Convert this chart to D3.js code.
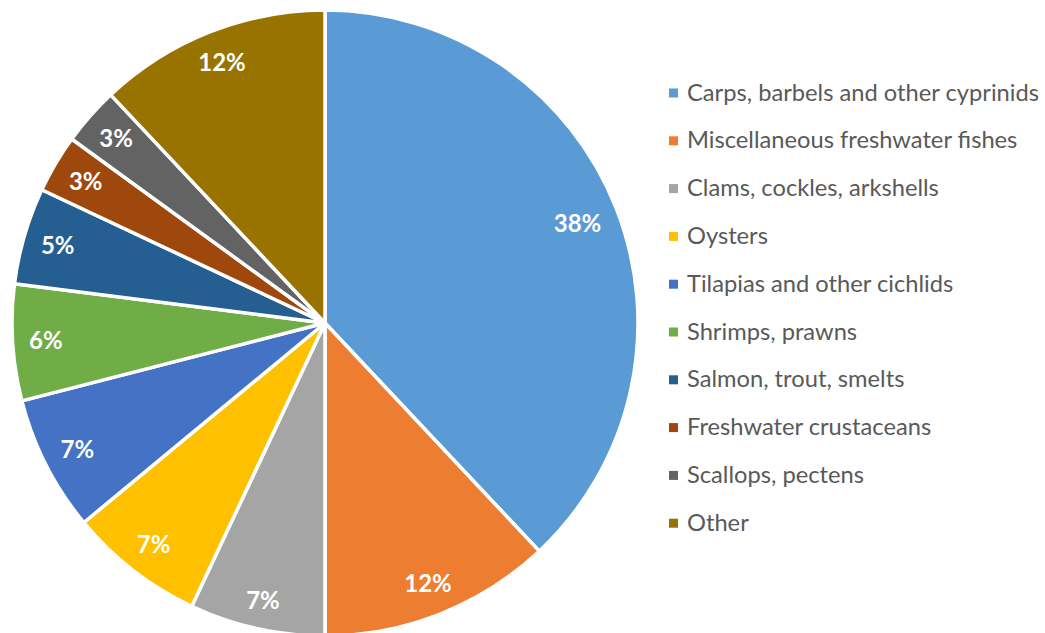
<!DOCTYPE html>
<html>
<head>
<meta charset="utf-8">
<script src="https://cdn.jsdelivr.net/npm/d3@7"></script>
<style>
  html, body { margin: 0; padding: 0; background: #fff; }
  svg { display: block; }
</style>
</head>
<body>
<svg id="chart" width="1045" height="633"></svg>
<script>
// Aquaculture production by species group, share of total (%)
const categories = [
  "Carps, barbels and other cyprinids",
  "Miscellaneous freshwater fishes",
  "Clams, cockles, arkshells",
  "Oysters",
  "Tilapias and other cichlids",
  "Shrimps, prawns",
  "Salmon, trout, smelts",
  "Freshwater crustaceans",
  "Scallops, pectens",
  "Other"
];
const shares = [38, 12, 7, 7, 7, 6, 5, 3, 3, 12];
const palette = ["#5B9BD5", "#ED7D31", "#A5A5A5", "#FFC000", "#4472C4",
                 "#70AD47", "#255E91", "#9E480E", "#636363", "#997300"];

const data = categories.map((c, i) => ({ name: c, value: shares[i] }));

const svg = d3.select("#chart");
const cx = 325, cy = 323, radius = 313;
const labelMargin = 16;

const color = d3.scaleOrdinal().domain(categories).range(palette);

const pie = d3.pie().value(d => d.value).sort(null);
const arc = d3.arc().innerRadius(0).outerRadius(radius);

const g = svg.append("g").attr("transform", `translate(${cx},${cy})`);
const arcs = pie(data);

g.selectAll("path.slice")
  .data(arcs)
  .join("path")
  .attr("class", "slice")
  .attr("d", arc)
  .attr("fill", d => color(d.data.name))
  .attr("stroke", "#fff")
  .attr("stroke-width", 3.5)
  .attr("stroke-linejoin", "round");

// Percentage labels, pushed out towards the rim so each box stays inside its slice
const labels = g.selectAll("text.pct")
  .data(arcs)
  .join("text")
  .attr("class", "pct")
  .attr("text-anchor", "middle")
  .attr("dy", "0.36em")
  .attr("fill", "#fff")
  .style("font-family", "Lato, 'Open Sans', sans-serif")
  .style("font-weight", "bold")
  .style("font-size", "24px")
  .text(d => d.data.value + "%");

labels.attr("transform", function(d) {
  const w = this.getComputedTextLength();
  const h = 18;
  const a = (d.startAngle + d.endAngle) / 2;
  const r = radius - labelMargin - (w / 2) * Math.abs(Math.sin(a)) - (h / 2) * Math.abs(Math.cos(a));
  return `translate(${r * Math.sin(a)},${-r * Math.cos(a)})`;
});

// Legend
const legendX = 669, legendY0 = 93, legendStep = 47.8;
const legend = svg.append("g")
  .selectAll("g")
  .data(categories)
  .join("g")
  .attr("transform", (d, i) => `translate(${legendX},${legendY0 + i * legendStep})`);

legend.append("rect")
  .attr("x", 0).attr("y", -4.5)
  .attr("width", 9).attr("height", 9)
  .attr("fill", d => color(d));

legend.append("text")
  .attr("x", 18)
  .attr("y", 7.5)
  .attr("fill", "#595959")
  .style("font-family", "Lato, 'Open Sans', sans-serif")
  .style("font-size", "23.7px")
  .text(d => d);
</script>
</body>
</html>
